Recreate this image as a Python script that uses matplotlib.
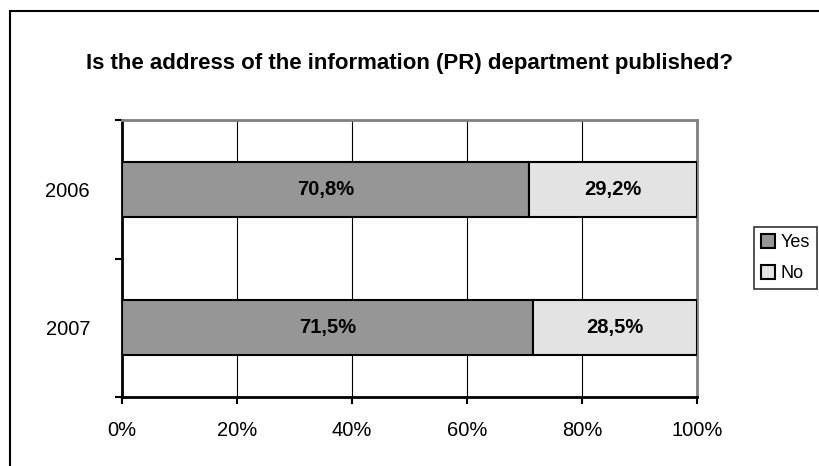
import numpy as np
import matplotlib
matplotlib.use('Agg')
import matplotlib.pyplot as plt
from matplotlib.patches import Rectangle

years = ['2006', '2007']
yes = [70.8, 71.5]
no = [29.2, 28.5]
xticks = [0, 20, 40, 60, 80, 100]

plt.rcParams['font.family'] = ['Liberation Sans', 'DejaVu Sans']

fig = plt.figure(figsize=(8.19, 4.66), dpi=100)
# outer chart frame, runs past the right and bottom edge
fig.patches.append(Rectangle((10/819, -0.1), 1, 1.1 - 11/466, transform=fig.transFigure,
                             fill=False, edgecolor='black', linewidth=1.5))

ax = fig.add_axes([122/819, 1-397/466, 575/819, 277/466])
pos = np.arange(len(years)) + 0.5
ax.barh(pos, yes, height=0.4, color='#969696', edgecolor='black', linewidth=1.5, label='Yes', zorder=3)
ax.barh(pos, no, left=yes, height=0.4, color='#e3e3e3', edgecolor='black', linewidth=1.5, label='No', zorder=3)

for p, a, b in zip(pos, yes, no):
    ax.text(a/2, p, f'{a:.1f}%'.replace('.', ','), ha='center', va='center', fontsize=14.5, fontweight='bold', zorder=4)
    ax.text(a + b/2, p, f'{b:.1f}%'.replace('.', ','), ha='center', va='center', fontsize=14.5, fontweight='bold', zorder=4)

ax.set_xlim(0, 100)
ax.set_ylim(2, 0)
ax.set_xticks(xticks)
ax.set_xticklabels([f'{t}%' for t in xticks], fontsize=14.5)
ax.set_yticks([0, 1, 2])
ax.set_yticklabels([])
ax.set_yticks(pos, minor=True)
ax.set_yticklabels(years, minor=True, fontsize=14.5)
ax.tick_params(axis='y', which='minor', length=0, pad=23)
ax.tick_params(axis='y', which='major', length=5, width=1.5, direction='out')
ax.tick_params(axis='x', length=5, width=1.5, direction='out', pad=12)
ax.xaxis.grid(True, color='black', linewidth=0.8, zorder=0)
ax.set_axisbelow(True)
for s in ['left', 'bottom']:
    ax.spines[s].set_linewidth(2)
for s in ['top', 'right']:
    ax.spines[s].set_color('#808080')
    ax.spines[s].set_linewidth(2)

fig.text(0.5, 1-63/466, 'Is the address of the information (PR) department published?',
         ha='center', va='center', fontsize=16, fontweight='bold')

leg = fig.legend(loc='center left', bbox_to_anchor=(754/819, 1-258/466), fontsize=13,
                 frameon=True, fancybox=False, edgecolor='black', handlelength=0.75,
                 handleheight=0.8, handletextpad=0.3, borderpad=0.4, labelspacing=0.75,
                 borderaxespad=0)
leg.get_frame().set_linewidth(1.2)

fig.savefig('out.png', dpi=100)
